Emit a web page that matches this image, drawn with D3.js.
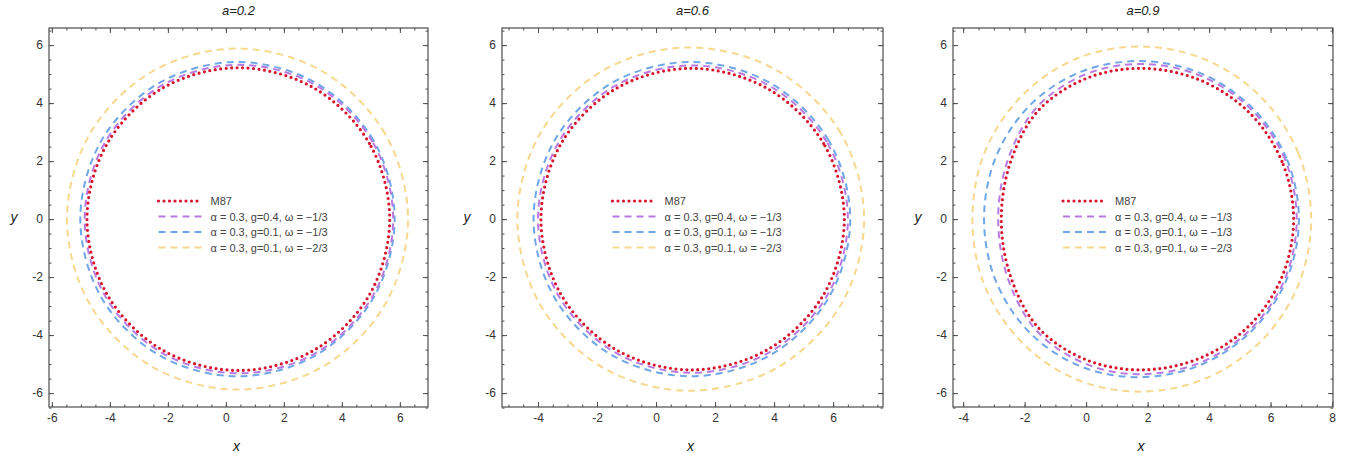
<!DOCTYPE html>
<html>
<head>
<meta charset="utf-8">
<script src="https://cdn.jsdelivr.net/npm/d3@7"></script>
<style>
  body { margin: 0; background: #fff; }
  svg text { font-family: "Liberation Sans", Arial, sans-serif; }
</style>
</head>
<body>
<div id="chart"></div>
<script>
// Panel titles and legend entries
const panelTitles = ["a=0.2", "a=0.6", "a=0.9"];
const seriesNames = [
  "M87",
  "\u03b1 = 0.3, g=0.4, \u03c9 = \u22121/3",
  "\u03b1 = 0.3, g=0.1, \u03c9 = \u22121/3",
  "\u03b1 = 0.3, g=0.1, \u03c9 = \u22122/3"
];

// axis ranges and tick labels (per panel)
const xDomains = [[-6.1, 6.97], [-5.22, 7.69], [-4.33, 8.03]];
const yDomain = [-6.48, 6.59];
const xTicks = [[-6, -4, -2, 0, 2, 4, 6], [-4, -2, 0, 2, 4, 6], [-4, -2, 0, 2, 4, 6, 8]];
const yTicks = [-6, -4, -2, 0, 2, 4, 6];

// shadow boundaries, upper half (right edge -> left edge), one list per panel
const shadowM87 = [
  [[5.65, 0], [4.95, 2.61], [3.04, 4.52], [0.43, 5.22], [-2.18, 4.52], [-4.09, 2.61], [-4.79, 0]],
  [[6.38, 0], [5.68, 2.6], [3.78, 4.5], [1.18, 5.2], [-1.36, 4.5], [-3.22, 2.6], [-3.9, 0]],
  [[6.75, 0], [6.37, 1.99], [5.3, 3.68], [3.69, 4.8], [1.8, 5.2], [0.0, 4.85], [-1.55, 3.75], [-2.45, 2.0], [-2.76, 0]]
];
const shadowG04 = [
  [[5.77, 0], [5.06, 2.66], [3.11, 4.61], [0.45, 5.32], [-2.21, 4.61], [-4.16, 2.66], [-4.87, 0]],
  [[6.5, 0], [5.79, 2.65], [3.85, 4.59], [1.2, 5.3], [-1.4, 4.59], [-3.3, 2.65], [-4.0, 0]],
  [[6.85, 0], [6.47, 2.05], [5.37, 3.78], [3.73, 4.94], [1.8, 5.35], [-0.02, 4.99], [-1.6, 3.86], [-2.54, 2.06], [-2.86, 0]]
];
const shadowG01 = [
  [[5.82, 0], [5.09, 2.71], [3.11, 4.69], [0.4, 5.42], [-2.31, 4.69], [-4.29, 2.71], [-5.02, 0]],
  [[6.58, 0], [5.85, 2.71], [3.87, 4.69], [1.16, 5.42], [-1.5, 4.69], [-3.44, 2.71], [-4.15, 0]],
  [[6.92, 0], [6.52, 2.09], [5.39, 3.85], [3.7, 5.04], [1.7, 5.45], [-0.22, 5.06], [-1.85, 3.9], [-2.95, 2.1], [-3.32, 0]]
];
const shadowW23 = [
  [[6.28, 0], [5.49, 2.94], [3.34, 5.09], [0.4, 5.88], [-2.54, 5.09], [-4.69, 2.94], [-5.48, 0]],
  [[7.05, 0], [6.26, 2.96], [4.09, 5.13], [1.13, 5.92], [-1.79, 5.13], [-3.92, 2.96], [-4.7, 0]],
  [[7.32, 0], [6.9, 2.28], [5.69, 4.21], [3.88, 5.5], [1.75, 5.95], [-0.34, 5.52], [-2.1, 4.24], [-3.3, 2.3], [-3.7, 0]]
];

const W = 1354, H = 460;
const frames = [[49, 428], [502, 883], [953, 1333]];
const plotTop = 28, plotBottom = 407;

// series styles, drawn back to front
const styles = [
  { data: shadowW23, name: seriesNames[3], color: "#f6d88e", dash: "7,5", width: 2, cap: "butt" },
  { data: shadowG01, name: seriesNames[2], color: "#6fa6e6", dash: "7,5", width: 2, cap: "butt" },
  { data: shadowG04, name: seriesNames[1], color: "#b97ae0", dash: "7,5", width: 2, cap: "butt" },
  { data: shadowM87, name: seriesNames[0], color: "#d8152f", dash: "0,5.5", width: 3.2, cap: "round" }
];

const svg = d3.select("#chart").append("svg")
  .attr("width", W).attr("height", H);

const frameColor = "#4d4d4d";
const textColor = "#333";

frames.forEach(function (fr, p) {
  const x = d3.scaleLinear().domain(xDomains[p]).range(fr);
  const y = d3.scaleLinear().domain(yDomain).range([plotBottom, plotTop]);
  const g = svg.append("g");

  // clipped plot area
  const clipId = "clip" + p;
  svg.append("clipPath").attr("id", clipId)
    .append("rect").attr("x", fr[0]).attr("y", plotTop)
    .attr("width", fr[1] - fr[0]).attr("height", plotBottom - plotTop);

  const line = d3.line()
    .x(d => x(d[0])).y(d => y(d[1]))
    .curve(d3.curveCatmullRomClosed.alpha(0.5));

  const plot = g.append("g").attr("clip-path", "url(#" + clipId + ")");
  styles.forEach(function (s) {
    const upper = s.data[p];
    const lower = upper.slice(1, -1).reverse().map(d => [d[0], -d[1]]);
    plot.append("path")
      .attr("d", line(upper.concat(lower)))
      .attr("fill", "none")
      .attr("stroke", s.color)
      .attr("stroke-width", s.width)
      .attr("stroke-dasharray", s.dash)
      .attr("stroke-linecap", s.cap);
  });

  // ticks on all four sides, pointing inward
  const xMinor = d3.range(Math.ceil(xDomains[p][0] * 2) / 2, xDomains[p][1], 0.5);
  const yMinor = d3.range(-6.5, 6.6, 0.5);

  function axisSet(axisFn, scale, major, minor, transform, labels) {
    const a1 = g.append("g").attr("transform", transform)
      .call(axisFn(scale).tickValues(minor).tickSizeInner(-2.5).tickSizeOuter(0).tickFormat(""));
    const a2 = g.append("g").attr("transform", transform)
      .call(axisFn(scale).tickValues(major).tickSizeInner(-5).tickSizeOuter(0).tickPadding(6)
        .tickFormat(labels ? (d => d < 0 ? "-" + Math.abs(d) : d) : ""));
    [a1, a2].forEach(a => {
      a.select(".domain").remove();
      a.selectAll("line").attr("stroke", frameColor).attr("stroke-width", 1);
      a.selectAll("text").attr("fill", textColor).attr("font-size", 12);
    });
  }
  axisSet(d3.axisBottom, x, xTicks[p], xMinor, "translate(0," + plotBottom + ")", true);
  axisSet(d3.axisTop, x, xTicks[p], xMinor, "translate(0," + plotTop + ")", false);
  axisSet(d3.axisLeft, y, yTicks, yMinor, "translate(" + fr[0] + ",0)", true);
  axisSet(d3.axisRight, y, yTicks, yMinor, "translate(" + fr[1] + ",0)", false);

  g.append("rect")
    .attr("x", fr[0]).attr("y", plotTop)
    .attr("width", fr[1] - fr[0]).attr("height", plotBottom - plotTop)
    .attr("fill", "none").attr("stroke", frameColor).attr("stroke-width", 1.2);

  const cx = (fr[0] + fr[1]) / 2;

  // title and axis labels
  g.append("text").attr("x", cx).attr("y", 15)
    .attr("text-anchor", "middle").attr("font-size", 13)
    .attr("font-style", "italic").attr("fill", "#222")
    .text(panelTitles[p]);
  g.append("text").attr("x", cx - 2).attr("y", 451)
    .attr("text-anchor", "middle").attr("font-size", 14)
    .attr("font-style", "italic").attr("fill", "#222").text("x");
  g.append("text").attr("x", fr[0] - 35).attr("y", (plotTop + plotBottom) / 2 + 4)
    .attr("text-anchor", "middle").attr("font-size", 14)
    .attr("font-style", "italic").attr("fill", "#222").text("y");

  // legend
  const lx = cx - 80, ly = 201;
  const legendOrder = [3, 2, 1, 0];
  legendOrder.forEach(function (si, i) {
    const s = styles[si];
    const rowY = ly + i * 15.5;
    g.append("line")
      .attr("x1", lx).attr("x2", lx + 44)
      .attr("y1", rowY).attr("y2", rowY)
      .attr("stroke", s.color)
      .attr("stroke-width", s.width)
      .attr("stroke-dasharray", s.dash)
      .attr("stroke-linecap", s.cap);
    g.append("text")
      .attr("x", lx + 52).attr("y", rowY + 4)
      .attr("font-size", 11).attr("fill", "#444")
      .text(s.name);
  });
});
</script>
</body>
</html>
